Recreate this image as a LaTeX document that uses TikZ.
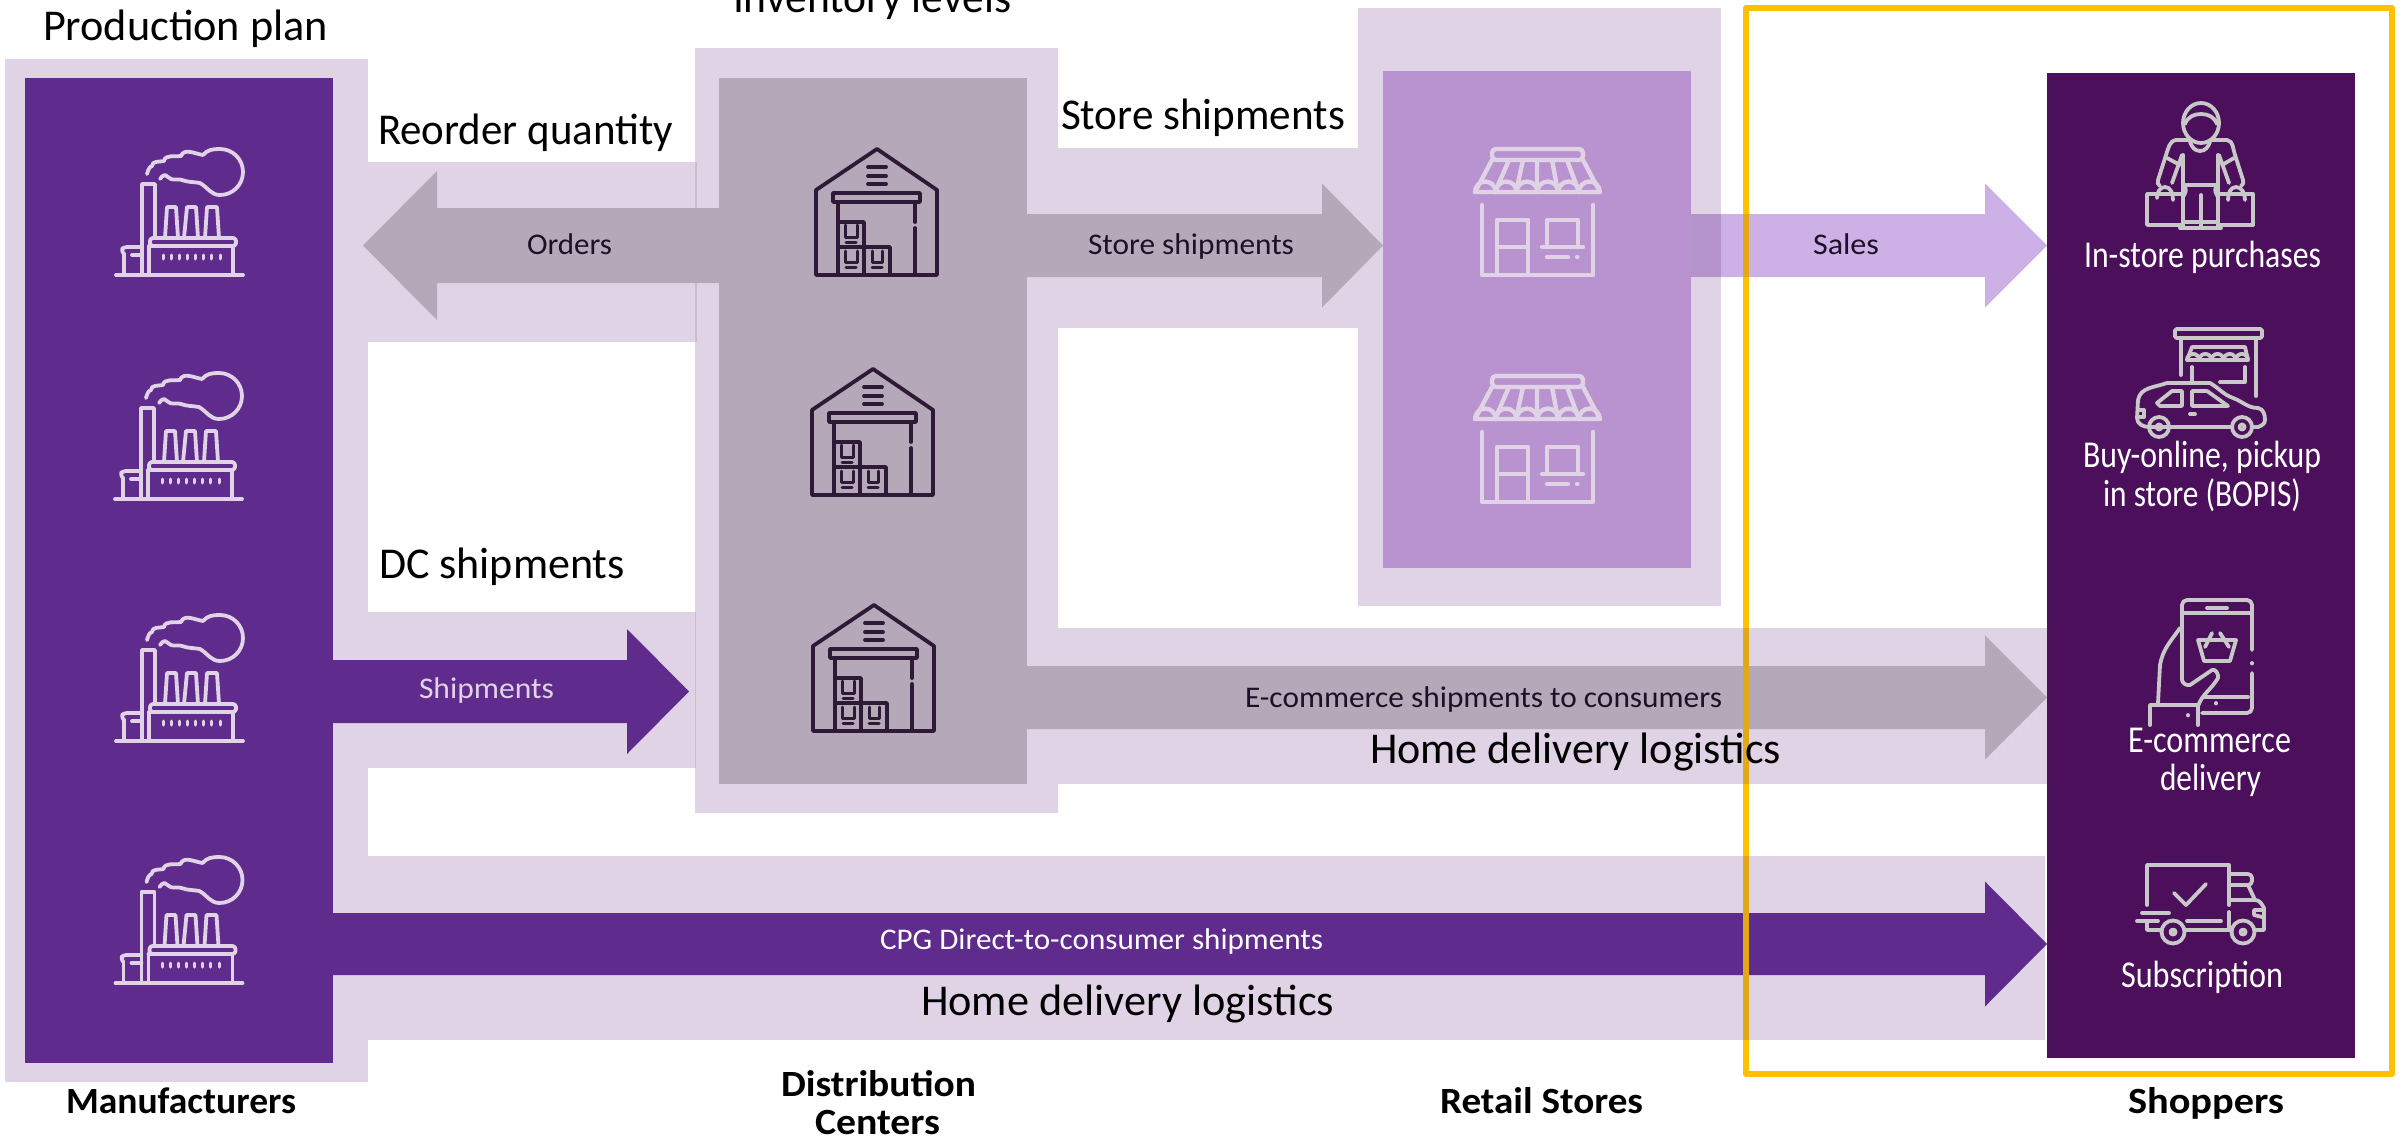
\documentclass[tikz,border=0pt]{standalone}
\usepackage{graphicx}
\usepackage{fontspec}
\setmainfont{Carlito}
\usetikzlibrary{calc}
\definecolor{halo}{HTML}{E0D3E5}
\definecolor{haloedge}{HTML}{CDBBD6}
\definecolor{manuc}{HTML}{5F2B8C}
\definecolor{dcc}{HTML}{B4A8B9}
\definecolor{retailc}{HTML}{B893D0}
\definecolor{shopc}{HTML}{4C0F5C}
\definecolor{salesc}{HTML}{CDB0E6}
\definecolor{salesdark}{HTML}{B594CC}
\definecolor{frameyel}{HTML}{FFC000}
\definecolor{framedark}{HTML}{E3A815}
\definecolor{darkicon}{HTML}{2E1A36}
\definecolor{greyicon}{HTML}{C8C8C8}
\definecolor{smalltext}{HTML}{1E1026}
\newsavebox\fwbox
\newcommand\fw[2]{\sbox\fwbox{#2}\pgfmathsetmacro\fwr{#1/\the\wd\fwbox}\scalebox{\fwr}[1]{\usebox\fwbox}}
% arrow: from coordinate, tip coordinate, head length (signed), shaft half, head half, colour
\newcommand\blockarrow[6]{\fill[#6] ($(#1)+(0,#4)$) -- ($(#2)+({-(#3)},#4)$) -- ($(#2)+({-(#3)},#5)$) -- (#2) -- ($(#2)+({-(#3)},-#5)$) -- ($(#2)+({-(#3)},-#4)$) -- ($(#1)+(0,-#4)$) -- cycle;}
\newcommand\factoryicon[2]{\begin{scope}[shift={(#1,#2)},ico=halo]
 \draw (16,145)--(143,145);
 \draw[rounded corners=3pt] (50,108) rectangle (136,116);
 \draw (49,116)--(49,145) (133,116)--(133,145) (49,116)--(120,116);
 \foreach \x in {63,71,79,87,95,103,111,120}{\draw[line width=3pt] (\x,125)--(\x,129);}
 \draw (42,145)--(42,54)--(55,54)--(55,108);
 \draw (65,108)--(67,77)--(76,77)--(78,108);
 \draw (84,108)--(87,77)--(96,77)--(98,108);
 \draw (105,108)--(107,77)--(117,77)--(119,108);
 \draw[rounded corners=3pt] (42,117)--(24,117)--(21,120)--(24,124);
 \draw (24,124)--(24,145) (32,125)--(42,125);
 \draw (47,44) to[out=70,in=200] (52,36) to[out=90,in=190] (64,31) to[out=80,in=190] (81,26) to[out=70,in=170] (103,25) to[out=50,in=180] (120,19) to[out=0,in=90] (143,42) to[out=-90,in=0] (120,65) to[out=180,in=-30] (100,53) to[out=170,in=-20] (82,50) to[out=160,in=-20] (71,49) to[out=170,in=-10] (65,45) to[out=170,in=40] (60,49);
\end{scope}}
\newcommand\warehouseicon[2]{\begin{scope}[shift={(#1,#2)},ico=darkicon]
 \draw (16,145)--(16,60)--(77,19)--(137,60)--(137,145)--cycle;
 \draw (68,37)--(86,37) (68,46)--(86,46) (68,54)--(86,54);
 \draw (33,63) rectangle (120,72);
 \draw (38,72)--(38,145) (115,72)--(115,92) (115,98)--(115,145);
 \draw (38,92)--(64,92)--(64,145) (38,117)--(90,117)--(90,145);
 \draw[line width=3pt] (45,95)--(45,107)--(57,107)--(57,95) (46,112)--(56,112);
 \draw[line width=3pt] (45,121)--(45,132)--(57,132)--(57,121) (46,137)--(56,137);
 \draw[line width=3pt] (72,121)--(72,132)--(82,132)--(82,121) (72,137)--(82,137);
\end{scope}}
\newcommand\storeicon[2]{\begin{scope}[shift={(#1,#2)},ico=halo,line width=4.4pt]
 \draw[rounded corners=4pt] (32,30)--(32,19)--(123,19)--(123,30)--cycle;
 \draw (32,30)--(15,62)--(140,62)--(123,30);
 \draw (49,30)--(35,62) (63,30)--(56,62) (77,30)--(77,62) (92,30)--(98,62) (107,30)--(119,62);
 \draw (15,62) arc[start angle=180,end angle=360,radius=10.4];
 \draw (35.8,62) arc[start angle=180,end angle=360,radius=10.4];
 \draw (56.6,62) arc[start angle=180,end angle=360,radius=10.4];
 \draw (77.4,62) arc[start angle=180,end angle=360,radius=10.4];
 \draw (98.2,62) arc[start angle=180,end angle=360,radius=10.4];
 \draw (119,62) arc[start angle=180,end angle=360,radius=10.4];
 \draw (22,75)--(22,145)--(133,145)--(133,75);
 \draw (37,145)--(37,90)--(68,90)--(68,145) (37,117)--(68,117);
 \draw (87,117)--(87,90)--(118,90)--(118,117) (82,117)--(123,117);
 \draw (87,127)--(108,127) (117,127)--(117.5,127);
\end{scope}}
\newcommand\shoppericon[2]{\begin{scope}[shift={(#1,#2)},ico=greyicon]
 \draw (71,33) ellipse[x radius=18,y radius=20];
 \draw (55,34) to[out=70,in=180] (71,24) to[out=0,in=110] (87,34);
 \draw (60,52) to[out=-70,in=180] (70,61) to[out=0,in=-110] (80,52);
 \draw (60,50)--(46,50) to[out=190,in=70] (36,65)--(28,90) to[out=-110,in=160] (30,96);
 \draw (81,50)--(97,50) to[out=-10,in=110] (105,65)--(113,90) to[out=-70,in=20] (111,96);
 \draw (52,65)--(42,93) (37,68)--(50,75);
 \draw (89,65)--(99,93) (104,68)--(92,75);
 \draw (53,65)--(53,138) (88,65)--(88,138);
 \draw (53,95)--(88,95);
 \draw (55,97) to[out=-60,in=60] (53,107) (86,97) to[out=-120,in=120] (88,107);
 \draw (50,138)--(91,138) (53,132)--(88,132) (71,105)--(71,138);
 \draw (53,104)--(17,104)--(17,135)--(53,135);
 \draw (88,104)--(123,104)--(123,135)--(88,135);
 \draw (27,108) to[out=90,in=180] (35,97) to[out=0,in=90] (43,110);
 \draw (98,110) to[out=90,in=180] (106,97) to[out=0,in=90] (115,110);
\end{scope}}
\newcommand\pickupicon[2]{\begin{scope}[shift={(#1,#2)},ico=greyicon]
 \draw[rounded corners=1.5pt] (45,9) rectangle (132,18);
 \draw (51,18)--(51,55) (126,18)--(126,76);
 \draw (62,27)--(115,27)--(118,40)--(57,40)--cycle;
 \foreach \x in {57,69.2,81.4,93.6,105.8}{\draw (\x,40) arc[start angle=180,end angle=360,radius=6.1];}
 \draw (62,47)--(62,62) (115,47)--(115,62)--(90,62);
 \draw (38,107)--(19,107) to[out=180,in=-90] (7,98)--(8,80) to[out=80,in=200] (37,63)--(80,63) to[out=-30,in=160] (103,78) to[out=-20,in=180] (128,88) to[out=-10,in=90] (135,100) to[out=-90,in=20] (128,107)--(123,107);
 \draw (40,107)--(102,107);
 \draw (29,107) circle[radius=10] (112,107) circle[radius=10];
 \draw (29,107) circle[radius=2.5] (112,107) circle[radius=2.5];
 \draw (27,83)--(42,71)--(52,71)--(52,86)--(30,86)--cycle;
 \draw (62,71)--(77,71)--(98,86)--(62,86)--cycle;
 \draw (60,94)--(65,94);
 \draw (8,90)--(14,90)--(14,97)--(8,97);
\end{scope}}
\newcommand\phoneicon[2]{\begin{scope}[shift={(#1,#2)},ico=greyicon]
 \draw[rounded corners=5pt] (52,90)--(52,10)--(122,10)--(122,60);
 \draw (122,73)--(122,73.5);
 \draw[rounded corners=5pt] (122,83)--(122,123)--(72,123);
 \draw (52,23)--(122,23) (77,18)--(97,18) (74,107)--(118,107) (86,113)--(86,113.5);
 \draw (52,90) to[out=-80,in=190] (60,95)--(82,80) to[out=20,in=80] (88,88) to[out=-120,in=70] (68,116);
 \draw (50,38) to[out=-125,in=80] (30,75)--(28,113);
 \draw (20,135)--(20,115)--(68,115)--(68,135) (58,125)--(58,125.5);
 \draw (68,50)--(106,50)--(100,71)--(74,71)--cycle;
 \draw (75,57)--(82,43) (99,57)--(90,43);
\end{scope}}
\newcommand\truckicon[2]{\begin{scope}[shift={(#1,#2)},ico=greyicon]
 \draw (17,55)--(17,15)--(99,15)--(99,55) (99,62)--(99,78);
 \draw (44,43)--(56,55)--(76,34);
 \draw (12,63)--(39,63) (7,71)--(28,71) (17,72)--(17,80)--(31,80) (57,71)--(91,71) (55,80)--(100,80);
 \draw (43,82) circle[radius=11.5] (113,82) circle[radius=11.5];
 \draw (43,82) circle[radius=2.5] (113,82) circle[radius=2.5];
 \draw[rounded corners=4pt] (100,24)--(122,24)--(122,35)--(100,35);
 \draw (118,35)--(125,50)--(100,50);
 \draw (125,50) to[out=0,in=120] (134,58)--(134,80)--(125,80);
 \draw (124,60)--(132,60) (124,60)--(124,65)--(132,67);
\end{scope}}
\tikzset{
 ico/.style={line width=3.8pt,line cap=round,line join=round,draw=#1},
 blockbox/.style={rectangle,draw=none,inner sep=0pt,outer sep=0pt,anchor=north west},
 txt/.style={inner sep=0pt,outer sep=0pt,anchor=base west},
 bigt/.style={txt,font=\fontsize{44}{48}\selectfont,text=black},
 smallt/.style={txt,font=\fontsize{30}{34}\selectfont,text=smalltext},
 shopt/.style={txt,font=\fontsize{38}{42}\selectfont,text=white},
 headt/.style={txt,font=\bfseries\fontsize{37}{41}\selectfont,text=black}
}
\begin{document}
\begin{tikzpicture}[x=1pt,y=-1pt]
\useasboundingbox (0,0) rectangle (2407,1140);
\fill[white] (0,0) rectangle (2407,1140);
% halos and bands
\fill[halo] (5,59) rectangle (368,1082);
\fill[halo] (368,162) rectangle (696,342);
\fill[halo] (368,612) rectangle (695,768);
\fill[halo] (695,48) rectangle (1058,813);
\fill[halo] (1058,148) rectangle (1358,328);
\fill[halo] (1358,8) rectangle (1721,606);
\fill[halo] (1058,628) rectangle (2047,784);
\fill[halo] (368,856) rectangle (2045,1040);
\fill[haloedge] (695,162) rectangle (696.5,342);
\fill[haloedge] (694.5,612) rectangle (695.5,768);
% main boxes
\node[blockbox,fill=manuc,minimum width=308pt,minimum height=985pt] (manu) at (25,78) {};
\node[blockbox,fill=dcc,minimum width=308pt,minimum height=706pt] (dc) at (719,78) {};
\node[blockbox,fill=retailc,minimum width=308pt,minimum height=497pt] (retail) at (1383,71) {};
\node[blockbox,fill=shopc,minimum width=308pt,minimum height=985pt] (shop) at (2047,73) {};
% arrows
\coordinate (ordersTip) at (363,245.5);
\coordinate (ordersStart) at (dc.west |- ordersTip);
\blockarrow{ordersStart}{ordersTip}{-74}{37.5}{74.5}{dcc}
\coordinate (storeTip) at (retail.west |- 0,245.5);
\coordinate (storeStart) at (dc.east |- storeTip);
\blockarrow{storeStart}{storeTip}{61}{31.5}{62}{dcc}
\coordinate (salesTip) at (shop.west |- 0,245.5);
\coordinate (salesStart) at (retail.east |- salesTip);
\blockarrow{salesStart}{salesTip}{62}{31.5}{62}{salesc}
\fill[salesdark] (retail.east |- 0,214) rectangle (1721,277);
\coordinate (shipTip) at (689,691.5);
\coordinate (shipStart) at (manu.east |- shipTip);
\blockarrow{shipStart}{shipTip}{62}{31.5}{62.5}{manuc}
\coordinate (ecomTip) at (shop.west |- 0,697.5);
\coordinate (ecomStart) at (dc.east |- ecomTip);
\blockarrow{ecomStart}{ecomTip}{62}{31.5}{62}{dcc}
\coordinate (cpgTip) at (shop.west |- 0,944);
\coordinate (cpgStart) at (manu.east |- cpgTip);
\blockarrow{cpgStart}{cpgTip}{62}{31}{62.5}{manuc}
% highlight frame
\draw[frameyel,line width=5.5pt,line join=round] (1746,8) rectangle (2392,1074);
\fill[framedark] (1743.25,628) rectangle (1748.75,784);
\fill[framedark] (1743.25,856) rectangle (1748.75,1040);
\fill[framedark] (1743.25,214) rectangle (1748.75,277);
% icons
\factoryicon{100}{130}
\factoryicon{99}{354}
\factoryicon{100}{596}
\factoryicon{99.5}{838}
\warehouseicon{800}{130}
\warehouseicon{796}{350}
\warehouseicon{797}{586}
\storeicon{1460}{130}
\storeicon{1460}{357}
\shoppericon{2130}{90}
\pickupicon{2130}{320}
\phoneicon{2130}{590}
\truckicon{2130}{850}
% big labels
\node[bigt] (tplan) at (43,40.5) {\fw{285}{Production plan}};
\node[bigt] (tinv) at (733,13) {\fw{278}{Inventory levels}};
\node[bigt] (treorder) at (378,144.5) {\fw{295}{Reorder quantity}};
\node[bigt] (tstore) at (1061,129.5) {\fw{284}{Store shipments}};
\node[bigt] (tdc) at (379,578.5) {\fw{246}{DC shipments}};
\node[bigt] (thome) at (1370,763) {\fw{411}{Home delivery logistics}};
\node[bigt] (thometwo) at (921,1015) {\fw{413}{Home delivery logistics}};
% small labels
\node[smallt] (torders) at (527,254) {\fw{85}{Orders}};
\node[smallt] (tsmallstore) at (1088,254) {\fw{206}{Store shipments}};
\node[smallt] (tsales) at (1813,254) {\fw{66}{Sales}};
\node[smallt,text=halo] (tship) at (419,698) {\fw{135}{Shipments}};
\node[smallt] (tecom) at (1245,707) {\fw{477}{E-commerce shipments to consumers}};
\node[smallt,text=white] (tcpg) at (880,949) {\fw{443}{CPG Direct-to-consumer shipments}};
% shopper labels
\node[shopt] (s1) at (2084,267) {\fw{237}{In-store purchases}};
\node[shopt] (s2) at (2083,467) {\fw{238}{Buy-online, pickup}};
\node[shopt] (s3) at (2103,506) {\fw{198}{in store (BOPIS)}};
\node[shopt] (s4) at (2128,752) {\fw{163}{E-commerce}};
\node[shopt] (s5) at (2160,790) {\fw{101}{delivery}};
\node[shopt] (s6) at (2121,987) {\fw{162}{Subscription}};
% column headers
\node[headt] (h1) at (66,1113) {\fw{230}{Manufacturers}};
\node[headt] (h2) at (781,1096) {\fw{195}{Distribution}};
\node[headt] (h3) at (815,1134) {\fw{125}{Centers}};
\node[headt] (h4) at (1440,1113) {\fw{203}{Retail Stores}};
\node[headt] (h5) at (2128,1113) {\fw{156}{Shoppers}};
\end{tikzpicture}
\end{document}
